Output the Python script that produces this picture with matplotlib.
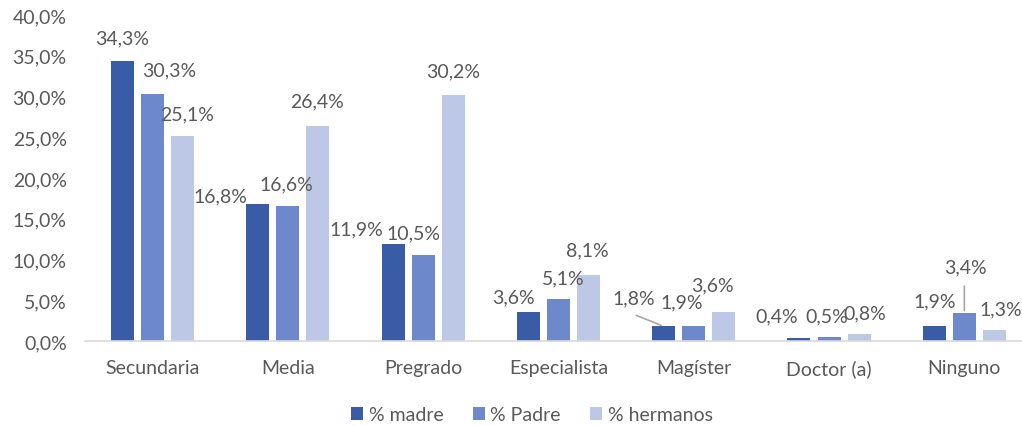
import matplotlib.pyplot as plt
import numpy as np
from matplotlib.ticker import FuncFormatter

# Datos
categorias = ["Secundaria", "Media", "Pregrado", "Especialista", "Magíster", "Doctor (a)", "Ninguno"]
madre = [34.3, 16.8, 11.9, 3.6, 1.8, 0.4, 1.9]
padre = [30.3, 16.6, 10.5, 5.1, 1.9, 0.5, 3.4]
hermanos = [25.1, 26.4, 30.2, 8.1, 3.6, 0.8, 1.3]
series = ["% madre", "% Padre", "% hermanos"]

colores = ["#3A5CA6", "#6E89CB", "#BDC8E6"]
gris = "#595959"

# desplazamiento de las etiquetas (px) respecto al tope de cada barra, como en Excel
dx = [[0, 17, 5], [-37, -1, -1], [-37, -10, 0], [-15, 5, -1],
      [-30, -12, -11], [-22, -2, 6], [0, 1.5, 6.5]]
dy = [[24, 24, 22.5], [8, 22, 25], [15, 23, 24], [15, 22, 25],
      [28, 24, 26.5], [22, 21, 22], [24.5, 46, 22]]

plt.rcParams['font.family'] = ['Lato', 'DejaVu Sans']
fs = 14

W, H = 1022, 427
fig = plt.figure(figsize=(W / 100, H / 100), dpi=100)
# eje: x de 84.8 px a 1032 px, y de 342 px (0%) a 16 px (40%)
ax = fig.add_axes([84.8 / W, (H - 342) / H, (1032 - 84.8) / W, 326 / H])

x = np.arange(len(categorias))
ancho = 0.17
paso = 0.222
datos = [madre, padre, hermanos]
for k, vals in enumerate(datos):
    ax.bar(x + (k - 1) * paso, vals, ancho, color=colores[k], label=series[k], zorder=2)

ax.set_xlim(-0.5, len(categorias) - 0.5)
ax.set_ylim(0, 40)
ax.set_yticks(np.arange(0, 41, 5))
ax.yaxis.set_major_formatter(FuncFormatter(lambda v, p: f"{v:.1f}%".replace(".", ",")))
ax.set_xticks(x)
ax.set_xticklabels(categorias)
ax.tick_params(axis='both', length=0, colors=gris, labelsize=fs)
ax.tick_params(axis='y', pad=13)
ax.tick_params(axis='x', pad=13)
for s in ["top", "right", "left"]:
    ax.spines[s].set_visible(False)
ax.spines["bottom"].set_color("#D9D9D9")
ax.spines["bottom"].set_linewidth(1.2)

# etiquetas de datos
for i in range(len(categorias)):
    for k, vals in enumerate(datos):
        v = vals[i]
        ax.annotate(f"{v:.1f}%".replace(".", ","), (x[i] + (k - 1) * paso, v),
                    xytext=(dx[i][k] * 0.72, dy[i][k] * 0.72), textcoords="offset points",
                    ha="center", va="center", fontsize=fs, color=gris)

# líneas guía
ax.annotate("", (x[4] - paso, madre[4]), xytext=(-30 * 0.72, 12 * 0.72), textcoords="offset points",
            arrowprops=dict(arrowstyle="-", color="#A6A6A6", lw=1.2))
ax.annotate("", (x[6], padre[6]), xytext=(0, 30 * 0.72), textcoords="offset points",
            arrowprops=dict(arrowstyle="-", color="#A6A6A6", lw=1.2))

fig.legend(loc="center", bbox_to_anchor=(532 / W, 1 - 416 / H), ncol=3, frameon=False,
           fontsize=fs, labelcolor=gris, handlelength=0.6, handleheight=0.6,
           handletextpad=0.3, columnspacing=1.5)

fig.savefig("out.png", dpi=100)
